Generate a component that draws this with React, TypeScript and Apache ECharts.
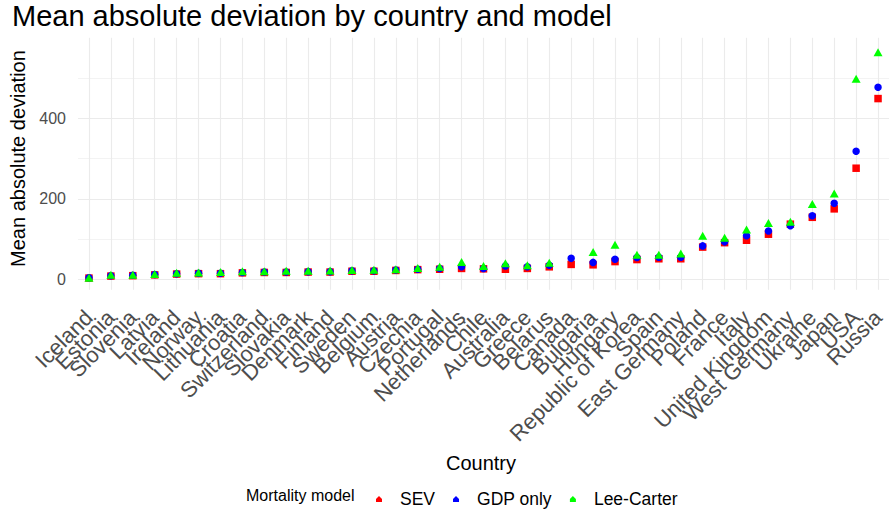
import React, { useEffect, useRef } from "react";
import * as echarts from "echarts";

const countries = [
  "Iceland", "Estonia", "Slovenia", "Latvia", "Ireland", "Norway", "Lithuania", "Croatia",
  "Switzerland", "Slovakia", "Denmark", "Finland", "Sweden", "Belgium", "Austria", "Czechia",
  "Portugal", "Netherlands", "Chile", "Australia", "Greece", "Belarus", "Canada", "Bulgaria",
  "Hungary", "Republic of Korea", "Spain", "East Germany", "Poland", "France", "Italy",
  "United Kingdom", "West Germany", "Ukraine", "Japan", "USA", "Russia",
];

const sevValues = [3, 8, 9, 11, 13, 14, 14, 16, 17, 17, 18, 18, 20, 20, 22, 24, 25, 27, 26, 25, 27, 31, 37, 36, 44, 49, 51, 51, 80, 91, 97, 112, 137, 154, 175, 276, 449];
const gdpValues = [4, 9, 10, 12, 14, 15, 15, 17, 18, 18, 19, 19, 21, 21, 23, 25, 27, 31, 27, 33, 31, 35, 52, 42, 50, 54, 55, 55, 83, 93, 108, 120, 133, 158, 189, 318, 477];
const leeCarterValues: (number | null)[] = [4, 11, 11, 13, 16, 17, 18, 20, 20, 21, 21, 22, 23, 24, 25, 28, 31, 43, 33, 40, 35, 41, null, 68, 86, 61, 61, 64, 108, 103, 124, 140, 143, 187, 213, 498, 564];

const seriesNames = ["SEV", "GDP only", "Lee-Carter"];
const yMax = 600;
const yInterval = 200;

const FONT = "'Liberation Sans', Arial, sans-serif";
const GRID = "#EBEBEB";

export default function App() {
  const ref = useRef<HTMLDivElement>(null);
  useEffect(() => {
    if (!ref.current) return;
    const chart = echarts.init(ref.current, null, { renderer: "svg" });
    const house = "path://M0,3 L3,0 L6,3 L6,6 L0,6 Z";
    chart.setOption({
      animation: false,
      backgroundColor: "#FFFFFF",
      textStyle: { fontFamily: FONT },
      title: {
        text: "Mean absolute deviation by country and model",
        left: 12,
        top: 1,
        padding: 0,
        textStyle: { fontSize: 29, fontWeight: "normal", color: "#000000", fontFamily: FONT },
      },
      grid: { left: 74, right: 6, top: 37.8, bottom: 231.7, containLabel: false },
      xAxis: {
        type: "category",
        data: countries,
        boundaryGap: true,
        axisLine: { show: false },
        axisTick: { show: true, alignWithLabel: true, length: 10.5, lineStyle: { color: GRID, width: 1.1 } },
        splitLine: { show: true, alignWithLabel: true, lineStyle: { color: GRID, width: 1.1 } },
        axisLabel: {
          interval: 0,
          rotate: 45,
          align: "right",
          verticalAlign: "top",
          margin: 19,
          padding: [0, 11, 0, 0],
          fontSize: 22,
          color: "#4D4D4D",
          fontFamily: FONT,
        },
      },
      yAxis: {
        type: "value",
        min: 0,
        max: yMax,
        interval: yInterval,
        name: "Mean absolute deviation",
        nameLocation: "middle",
        nameRotate: 90,
        nameGap: 50,
        nameTextStyle: { fontSize: 20, color: "#000000", fontFamily: FONT },
        axisLine: { show: false },
        axisTick: { show: false },
        axisLabel: { margin: 12, fontSize: 16, color: "#4D4D4D", fontFamily: FONT, showMaxLabel: false },
        splitLine: { show: true, showMaxLine: false, lineStyle: { color: GRID, width: 1.1 } },
        minorTick: { show: false, splitNumber: 2 },
        minorSplitLine: { show: true, lineStyle: { color: GRID, width: 0.6 } },
      },
      legend: {
        data: seriesNames,
        left: 371,
        top: 485,
        orient: "horizontal",
        icon: house,
        itemWidth: 6,
        itemHeight: 6,
        itemGap: 18,
        textStyle: { fontSize: 17.5, color: "#000000", fontFamily: FONT, padding: [0, 0, 0, 13] },
      },
      graphic: [
        {
          type: "text",
          left: 246,
          top: 487,
          style: { text: "Mortality model", fontSize: 16, fill: "#000000", fontFamily: FONT },
        },
        {
          type: "text",
          x: 481,
          y: 463,
          style: { text: "Country", fontSize: 20, fill: "#000000", fontFamily: FONT, align: "center", verticalAlign: "middle" },
        },
      ],
      series: [
        { name: "SEV", type: "scatter", data: sevValues, symbol: "rect", symbolSize: 7.5, itemStyle: { color: "#FF0000", opacity: 1 } },
        { name: "GDP only", type: "scatter", data: gdpValues, symbol: "circle", symbolSize: 7.5, itemStyle: { color: "#0000FF", opacity: 1 } },
        { name: "Lee-Carter", type: "scatter", data: leeCarterValues.map((v) => (v === null ? "-" : v)), symbol: "triangle", symbolSize: [9, 8], itemStyle: { color: "#00FF00", opacity: 1 } },
      ],
    });
    return () => chart.dispose();
  }, []);
  return <div ref={ref} style={{ position: "fixed", left: 0, top: 0, width: 895, height: 511 }} />;
}
